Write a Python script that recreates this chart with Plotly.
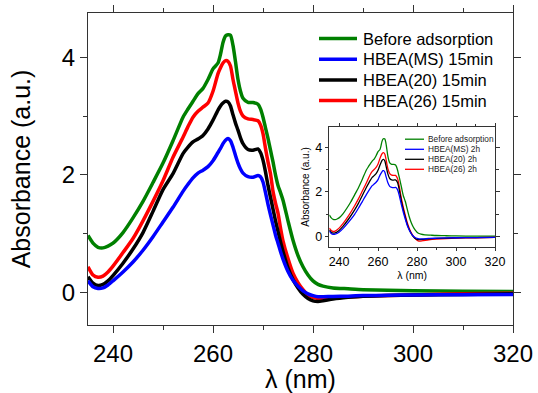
import plotly.graph_objects as go

# ---------------- data: main panel (15 min) ----------------
wl = [235, 236, 237, 238, 239, 240, 242, 244, 246, 248, 250, 252, 254,
      255, 256, 257, 258, 259, 260, 261, 261.5, 262, 262.5, 263, 263.5,
      264, 264.5, 265, 265.5, 266, 267, 268, 269, 269.5, 270, 270.5, 271,
      271.5, 272, 272.5, 273, 273.5, 274, 275, 276, 277, 278, 279, 280,
      281, 282, 284, 287, 290, 295, 300, 310, 320]

before = [0.97, 0.84, 0.77, 0.76, 0.79, 0.84, 1.02, 1.27, 1.55, 1.87, 2.2, 2.58, 2.98,
          3.12, 3.25, 3.38, 3.47, 3.62, 3.8, 3.9, 4.05, 4.25, 4.36, 4.38, 4.37,
          4.2, 3.92, 3.62, 3.42, 3.3, 3.23, 3.23, 3.2, 3.12, 2.98, 2.8, 2.62,
          2.42, 2.22, 2.0, 1.82, 1.7, 1.57, 1.22, 0.89, 0.63, 0.44, 0.3, 0.2,
          0.14, 0.11, 0.08, 0.065, 0.05, 0.04, 0.03, 0.025, 0.02]

ms_15 = [0.2, 0.1, 0.07, 0.08, 0.13, 0.2, 0.35, 0.52, 0.72, 0.95, 1.2, 1.45, 1.72,
         1.84, 1.95, 2.03, 2.08, 2.14, 2.24, 2.38, 2.45, 2.53, 2.59, 2.62, 2.58,
         2.47, 2.33, 2.2, 2.1, 2.03, 1.97, 1.96, 1.99, 1.97, 1.88, 1.7, 1.5,
         1.32, 1.15, 0.98, 0.84, 0.7, 0.57, 0.36, 0.21, 0.11, 0.03, -0.02, -0.05,
         -0.07, -0.07, -0.065, -0.06, -0.05, -0.045, -0.04, -0.035, -0.03]

h20_15 = [0.27, 0.16, 0.12, 0.14, 0.2, 0.29, 0.5, 0.74, 1.02, 1.38, 1.75, 2.02, 2.36,
          2.47, 2.56, 2.61, 2.67, 2.78, 2.93, 3.1, 3.17, 3.22, 3.25, 3.24, 3.17,
          3.02, 2.88, 2.76, 2.63, 2.53, 2.43, 2.42, 2.44, 2.38, 2.25, 2.05, 1.82,
          1.62, 1.42, 1.22, 1.04, 0.86, 0.7, 0.42, 0.22, 0.08, -0.03, -0.1, -0.14,
          -0.15, -0.14, -0.11, -0.08, -0.06, -0.05, -0.04, -0.03, -0.02]

h26_15 = [0.44, 0.3, 0.26, 0.28, 0.35, 0.45, 0.68, 0.92, 1.22, 1.55, 1.9, 2.3, 2.64,
          2.82, 2.98, 3.08, 3.15, 3.22, 3.42, 3.72, 3.82, 3.9, 3.94, 3.93, 3.85,
          3.62, 3.42, 3.22, 3.08, 3.0, 2.95, 2.94, 2.92, 2.85, 2.7, 2.45, 2.22,
          2.02, 1.72, 1.52, 1.35, 1.1, 0.88, 0.58, 0.33, 0.17, 0.05, -0.04, -0.08,
          -0.1, -0.1, -0.09, -0.07, -0.06, -0.05, -0.04, -0.02, -0.01]

# ---------------- data: inset (2 h) ----------------
wl2 = [235, 236, 237, 238, 240, 242, 245, 248, 250, 252, 254, 256, 257, 258,
       259, 260, 261, 262, 262.5, 263, 263.5, 264, 265, 266, 267, 268, 269,
       270, 271, 272, 273, 274, 275, 276, 277, 278, 279, 280, 281, 283, 286,
       290, 300, 310, 320]

ms_2h = [0.25, 0.14, 0.1, 0.11, 0.2, 0.36, 0.66, 1.0, 1.28, 1.58, 1.88, 2.16, 2.28, 2.35,
         2.43, 2.55, 2.75, 2.9, 2.95, 2.95, 2.88, 2.72, 2.42, 2.25, 2.2, 2.19, 2.2,
         2.1, 1.8, 1.42, 1.08, 0.78, 0.5, 0.3, 0.14, 0.03, -0.04, -0.08, -0.1, -0.1, -0.08,
         -0.07, -0.05, -0.04, -0.03]

h20_2h = [0.3, 0.2, 0.16, 0.17, 0.28, 0.46, 0.8, 1.2, 1.5, 1.85, 2.2, 2.52, 2.65, 2.73,
          2.82, 2.97, 3.2, 3.4, 3.45, 3.45, 3.38, 3.2, 2.82, 2.6, 2.54, 2.53, 2.54,
          2.42, 2.05, 1.58, 1.2, 0.86, 0.55, 0.32, 0.14, 0.01, -0.08, -0.12, -0.13, -0.12, -0.1,
          -0.08, -0.05, -0.04, -0.03]

h26_2h = [0.38, 0.27, 0.23, 0.25, 0.38, 0.58, 0.95, 1.38, 1.7, 2.05, 2.4, 2.78, 2.92, 3.0,
          3.1, 3.25, 3.5, 3.7, 3.75, 3.75, 3.68, 3.5, 3.05, 2.82, 2.75, 2.74, 2.74,
          2.6, 2.2, 1.7, 1.3, 0.95, 0.62, 0.38, 0.18, 0.03, -0.08, -0.16, -0.2, -0.18, -0.14,
          -0.11, -0.07, -0.05, -0.03]

labels_main = ["Before adsorption", "HBEA(MS) 15min", "HBEA(20) 15min", "HBEA(26) 15min"]
labels_inset = ["Before adsorption", "HBEA(MS) 2h", "HBEA(20) 2h", "HBEA(26) 2h"]
colors = ["#008000", "#0000ff", "#000000", "#ff0000"]

FONT = "Liberation Sans, Arial, Helvetica, sans-serif"
AX = "#333333"

fig = go.Figure()

main_series = [before, ms_15, h20_15, h26_15]
inset_series = [before, ms_2h, h20_2h, h26_2h]
draw_order = [0, 3, 2, 1]

for i in draw_order:
    fig.add_trace(go.Scatter(x=wl, y=main_series[i], mode="lines", name=labels_main[i],
                             line=dict(color=colors[i], width=3.5, shape="spline", smoothing=0.6),
                             showlegend=False, xaxis="x", yaxis="y"))
for i in draw_order:
    fig.add_trace(go.Scatter(x=wl if i == 0 else wl2, y=inset_series[i], mode="lines",
                             name=labels_inset[i],
                             line=dict(color=colors[i], width=1.3, shape="spline", smoothing=0.6),
                             showlegend=False, xaxis="x2", yaxis="y2"))

W, H = 538, 393
ml, mr, mt, mb = 88, 25, 13, 68
pw, ph = W - ml - mr, H - mt - mb


def px2paper(x, y):
    return (x - ml) / pw, (H - mb - y) / ph


shapes, annotations = [], []
# main legend
main_rows = [38.5, 59.3, 80.0, 100.5]
for lab, col, yy in zip(labels_main, colors, main_rows):
    x0, y0 = px2paper(319, yy)
    x1, _ = px2paper(357, yy)
    shapes.append(dict(type="line", xref="paper", yref="paper", x0=x0, x1=x1, y0=y0, y1=y0,
                       line=dict(color=col, width=3.5)))
    tx, _ = px2paper(361, yy)
    annotations.append(dict(text=lab, xref="paper", yref="paper", x=tx, y=y0, xanchor="left",
                            yanchor="middle", showarrow=False,
                            font=dict(family=FONT, size=16.5, color="#000")))
# inset legend
inset_rows = [139.2, 149.3, 159.3, 169.3]
for lab, col, yy in zip(labels_inset, colors, inset_rows):
    x0, y0 = px2paper(405, yy)
    x1, _ = px2paper(424, yy)
    shapes.append(dict(type="line", xref="paper", yref="paper", x0=x0, x1=x1, y0=y0, y1=y0,
                       line=dict(color=col, width=1.3)))
    tx, _ = px2paper(426, yy)
    annotations.append(dict(text=lab, xref="paper", yref="paper", x=tx, y=y0, xanchor="left",
                            yanchor="middle", showarrow=False,
                            font=dict(family=FONT, size=8.3, color="#222")))

ix0, iy0 = px2paper(329.3, 246.7)
ix1, iy1 = px2paper(495, 127.3)

common = dict(showline=True, linecolor=AX, linewidth=1.1, mirror="ticks", ticks="outside",
              tickcolor=AX, showgrid=False, zeroline=False, automargin=False)

fig.update_layout(
    width=W, height=H,
    margin=dict(l=ml, r=mr, t=mt, b=mb, autoexpand=False),
    paper_bgcolor="white", plot_bgcolor="white",
    font=dict(family=FONT, color="#000"),
    shapes=shapes, annotations=annotations,
    xaxis=dict(range=[235, 320], tick0=240, dtick=20, ticklen=7, tickwidth=1.1,
               tickfont=dict(size=24), domain=[0, 1], anchor="y",
               minor=dict(dtick=10, ticklen=4, tickcolor=AX, ticks="outside"),
               title=dict(text="λ (nm)", font=dict(size=25), standoff=9), **common),
    yaxis=dict(range=[-0.55, 4.75], tick0=0, dtick=2, ticklen=7, tickwidth=1.1,
               tickfont=dict(size=24), domain=[0, 1], anchor="x",
               minor=dict(dtick=1, ticklen=4, tickcolor=AX, ticks="outside"),
               title=dict(text="Absorbance (a.u.)", font=dict(size=25), standoff=24), **common),
    xaxis2=dict(range=[235, 320], tick0=240, dtick=20, ticklen=3.5, tickwidth=1,
                tickfont=dict(size=12.5), domain=[ix0, ix1], anchor="y2",
                minor=dict(dtick=10, ticklen=2.5, tickcolor=AX, ticks="outside"),
                title=dict(text="λ (nm)", font=dict(size=10.5), standoff=2), **common),
    yaxis2=dict(range=[-0.45, 4.89], tick0=0, dtick=2, ticklen=3.5, tickwidth=1,
                tickfont=dict(size=12.5), domain=[iy0, iy1], anchor="x2",
                minor=dict(dtick=1, ticklen=2.5, tickcolor=AX, ticks="outside"),
                title=dict(text="Absorbance (a.u.)", font=dict(size=10), standoff=3), **common),
)

fig.write_html("out.html", config={"displayModeBar": False},
               post_script="document.body.style.margin='0px';")
